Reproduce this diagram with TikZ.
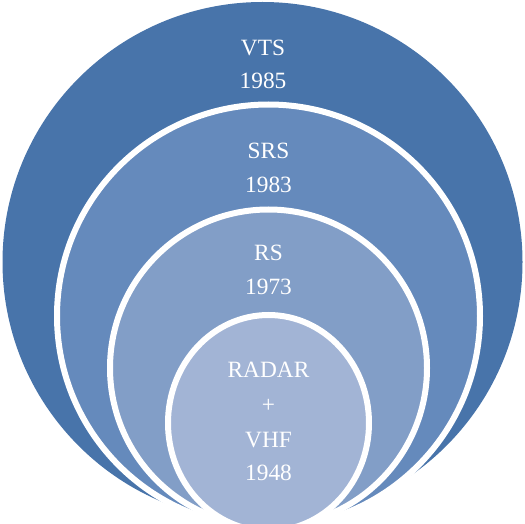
\documentclass[tikz,border=0pt]{standalone}
\usepackage{fontspec}
\setmainfont{Liberation Serif}
\definecolor{ringA}{HTML}{4874AA}
\definecolor{ringB}{HTML}{658ABC}
\definecolor{ringC}{HTML}{829EC7}
\definecolor{ringD}{HTML}{A2B4D5}
\tikzset{
  ring/.style={draw=white, line width=4.5},
  lbl/.style={text=white, anchor=base, inner sep=0pt, font=\fontsize{17.5}{20}\selectfont}
}
\begin{document}
\begin{tikzpicture}[x=0.75pt, y=-0.75pt]
  \useasboundingbox (0,0) rectangle (525,524);
  \clip (0,0) rectangle (525,524);
  % nested rings, largest first
  \fill[ringA] (262.5,262) circle (260);
  \draw[ring, fill=ringB] (268.5,316) circle (211.5);
  \draw[ring, fill=ringC] (268.5,368) circle (158.5);
  \draw[ring, fill=ringD] (268.5,423) ellipse [x radius=100.5, y radius=108];
  % labels
  \node[lbl] (vts)  at (263,56)  {VTS};
  \node[lbl] (vtsy) at (263,89)  {1985};
  \node[lbl] (srs)  at (268.5,159) {SRS};
  \node[lbl] (srsy) at (268.5,193) {1983};
  \node[lbl] (rs)   at (268.5,260) {RS};
  \node[lbl] (rsy)  at (268.5,294) {1973};
  \node[lbl] (rad)  at (268.5,377) {RADAR};
  \node[lbl] (plus) at (268.5,412) {+};
  \node[lbl] (vhf)  at (268.5,447) {VHF};
  \node[lbl] (rady) at (268.5,480) {1948};
\end{tikzpicture}
\end{document}
